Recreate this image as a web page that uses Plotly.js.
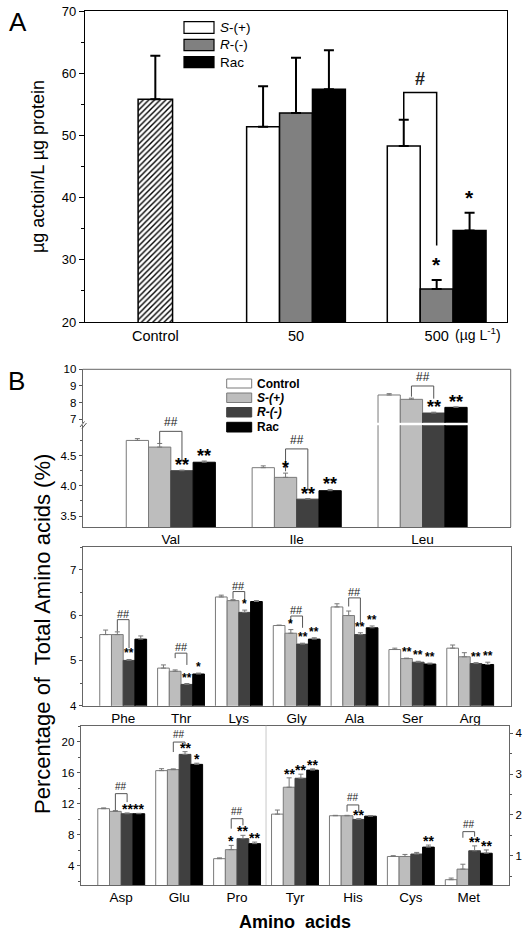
<!DOCTYPE html>
<html>
<head>
<meta charset="utf-8">
<script src="https://cdn.plot.ly/plotly-3.0.1.min.js"></script>
<style>html,body{margin:0;padding:0;background:#fff}</style>
</head>
<body>
<div id="chart" style="width:524px;height:935px"></div>
<script>
// ---------------- Panel A data ----------------
const aCategories = ['Control', '50', '500'];
const aUnitLabel = '(µg L<sup>-1</sup>)';
const aLegend = ['<i>S</i>-(+)', '<i>R</i>-(-)', 'Rac'];
const aControlMean = [55.8];
const aControlErr = [7.0];
const aSMean = [51.4, 48.3];
const aSErr = [6.5, 4.2];
const aRMean = [53.6, 25.3];
const aRErr = [8.9, 1.45];
const aRacMean = [57.4, 34.7];
const aRacErr = [6.3, 2.85];
const aYTicks = [20, 30, 40, 50, 60, 70];
const aYMinor = [25, 35, 45, 55, 65];

// ---------------- Panel B data ----------------
const bLegend = ['<b>Control</b>', '<b><i>S-(+)</i></b>', '<b><i>R-(-)</i></b>', '<b>Rac</b>'];

const bTopCats = ['Val', 'Ile', 'Leu'];
const bTopControl = [4.75, 4.30, 8.46];
const bTopControlErr = [0.03, 0.03, 0.08];
const bTopS = [4.64, 4.14, 8.20];
const bTopSErr = [0.06, 0.07, 0.07];
const bTopR = [4.25, 3.78, 7.38];
const bTopRErr = [0.01, 0.01, 0.05];
const bTopRac = [4.39, 3.92, 7.72];
const bTopRacErr = [0.02, 0.02, 0.03];

const bMidCats = ['Phe', 'Thr', 'Lys', 'Gly', 'Ala', 'Ser', 'Arg'];
const bMidControl = [5.57, 4.83, 6.40, 5.77, 6.18, 5.24, 5.27];
const bMidControlErr = [0.10, 0.07, 0.04, 0.01, 0.07, 0.03, 0.07];
const bMidS = [5.57, 4.76, 6.32, 5.60, 5.99, 5.04, 5.08];
const bMidSErr = [0.06, 0.03, 0.02, 0.08, 0.10, 0.01, 0.09];
const bMidR = [5.00, 4.47, 6.06, 5.36, 5.57, 4.96, 4.93];
const bMidRErr = [0.02, 0.02, 0.05, 0.02, 0.04, 0.02, 0.02];
const bMidRac = [5.47, 4.70, 6.30, 5.47, 5.72, 4.92, 4.91];
const bMidRacErr = [0.07, 0.02, 0.02, 0.03, 0.04, 0.02, 0.05];

// first three use the left axis, the last four the right axis
const bBotCats = ['Asp', 'Glu', 'Pro', 'Tyr', 'His', 'Cys', 'Met'];
const bBotLeftCount = 3;
const bBotControl = [11.35, 16.26, 4.90, 2.02, 1.98, 0.98, 0.41];
const bBotControlErr = [0.10, 0.25, 0.10, 0.10, 0.01, 0.02, 0.04];
const bBotS = [11.00, 16.39, 6.06, 2.68, 1.98, 0.98, 0.67];
const bBotSErr = [0.10, 0.10, 0.55, 0.23, 0.01, 0.05, 0.12];
const bBotR = [10.70, 18.36, 7.48, 2.90, 1.89, 1.04, 1.12];
const bBotRErr = [0.10, 0.35, 0.43, 0.10, 0.02, 0.04, 0.12];
const bBotRac = [10.70, 17.07, 6.84, 3.10, 1.97, 1.21, 1.06];
const bBotRacErr = [0.05, 0.15, 0.20, 0.03, 0.01, 0.05, 0.08];

const bTopLowTicks = [3.5, 4.0, 4.5];
const bTopLowMinor = [3.75, 4.25, 4.75];
const bTopHighTicks = [7, 8, 9, 10];
const bMidTicks = [4, 5, 6, 7];
const bMidMinor = [4.5, 5.5, 6.5, 7.5];
const bBotLeftTicks = [4, 8, 12, 16, 20];
const bBotLeftMinor = [2, 6, 10, 14, 18, 22];
const bBotRightTicks = [1, 2, 3, 4];
const bBotRightMinor = [0.5, 1.5, 2.5, 3.5];

// significance marks: [category index, series index, text]
const aStars = [[2, 2, '*'], [2, 3, '*']];
const bTopStars = [[0,2,'**'],[0,3,'**'],[1,1,'*'],[1,2,'**'],[1,3,'**'],[2,2,'**'],[2,3,'**']];
const bMidStars = [[0,2,'**'],[1,2,'**'],[1,3,'*'],[2,2,'*'],[3,1,'*'],[3,2,'**'],[3,3,'**'],[4,2,'**'],[4,3,'**'],[5,1,'**'],[5,2,'**'],[5,3,'**'],[6,2,'**'],[6,3,'**']];
const bBotStars = [[0,2,'**'],[0,3,'**'],[1,2,'**'],[1,3,'*'],[2,1,'*'],[2,2,'**'],[2,3,'**'],[3,1,'**'],[3,2,'**'],[3,3,'**'],[4,2,'**'],[5,3,'**'],[6,2,'**'],[6,3,'**']];
// brackets: [category index, left foot, top, right foot]
const aBrackets = [[2, 52.6, 56.9, 32.3]];
const bTopBrackets = [[0, 4.70, 4.90, 4.41], [1, 4.24, 4.61, 3.93], [2, 8.36, 9.0, 8.24]];
const bMidBrackets = [[0, 5.64, 5.90, 5.27], [1, 5.05, 5.16, 4.90], [2, 6.36, 6.52, 6.32], [3, 5.83, 5.98, 5.72], [4, 6.19, 6.38, 5.79]];
const bBotBrackets = [[0, 11.14, 13.29, 12.2], [1, 18.66, 19.95, 19.5], [2, 8.77, 10.06, 9.2], [4, 2.08, 2.245, 2.08], [6, 1.44, 1.59, 1.47]];

// ---------------- helpers ----------------
const FONT = 'Liberation Sans, Arial, Helvetica, sans-serif';
const W = 524, H = 935;
const px = x => x / W;
const py = y => 1 - y / H;
const catIdx = arr => arr.map((_, i) => i);

const traces = [], shapes = [], annotations = [];

function addBar(x, y, err, xa, ya, offset, width, marker, errColor, errThick, errW) {
  traces.push({
    type: 'bar', x: x, y: y, xaxis: xa, yaxis: ya, offset: offset, width: width,
    marker: marker, showlegend: false, hoverinfo: 'skip',
    error_y: {type: 'data', symmetric: false, array: err, arrayminus: err.map(() => 0),
              color: errColor, thickness: errThick, width: errW}
  });
}
function centersFor(groupW) {
  const w = groupW / 4;
  return [0, 1, 2, 3].map(s => -groupW / 2 + w * s + w / 2);
}
function addStars(list, means, errs, centers, xa, yaFor, fs, yshift) {
  list.forEach(([c, s, txt]) => {
    annotations.push({xref: xa, yref: yaFor(c), x: c + centers[s], y: means[s][c] + errs[s][c],
      text: '<b>' + txt + '</b>', showarrow: false, xanchor: 'center', yanchor: 'bottom',
      yshift: yshift, font: {size: fs, color: '#000'}});
  });
}
function addBrackets(list, centers, xa, yaFor, color, lw, hash, fs, yshift) {
  list.forEach(([c, left, top, right]) => {
    const xL = c + centers[1], xR = c + centers[2];
    shapes.push({type: 'path', xref: xa, yref: yaFor(c), layer: 'above',
      path: `M${xL},${left} L${xL},${top} L${xR},${top} L${xR},${right}`,
      line: {color: color, width: lw}});
    annotations.push({xref: xa, yref: yaFor(c), x: (xL + xR) / 2, y: top, text: hash,
      showarrow: false, xanchor: 'center', yanchor: 'bottom', yshift: yshift,
      font: {size: fs, color: '#222'}});
  });
}

// ---------------- Panel A ----------------
const aIdx = catIdx(aCategories);
const aGroup = 0.702, aW = aGroup / 3;
const aLine = {color: '#000', width: 1.5};
addBar([aIdx[0]], aControlMean, aControlErr, 'x', 'y', -0.1225, 0.245,
  {color: '#fff', line: aLine, pattern: {shape: '/', fgcolor: '#000', bgcolor: '#fff', size: 4, solidity: 0.35}},
  '#000', 2, 5);
const aFills = ['#ffffff', '#808080', '#000000'];
const aMeans = [aSMean, aRMean, aRacMean];
const aErrs = [aSErr, aRErr, aRacErr];
for (let s = 0; s < 3; s++) {
  addBar(aIdx.slice(1), aMeans[s], aErrs[s], 'x', 'y', -aGroup / 2 + s * aW, aW,
    {color: aFills[s], line: aLine}, '#000', 2, 5);
}
// centers indexed like B (0=control slot unused, 1=S, 2=R, 3=Rac)
const aCenters = [0, -aW, 0, aW];
const aStarMeans = [null, [null].concat(aSMean), [null].concat(aRMean), [null].concat(aRacMean)];
const aStarErrs = [null, [null].concat(aSErr), [null].concat(aRErr), [null].concat(aRacErr)];
addStars(aStars, aStarMeans, aStarErrs, aCenters, 'x', () => 'y', 21, 2);
addBrackets(aBrackets, aCenters, 'x', () => 'y', '#000', 1.5, '<b>#</b>', 18, 1);

// legend A
[[21.7, 33.3], [39.3, 50.7], [56.7, 67.7]].forEach(([y0, y1], i) => {
  shapes.push({type: 'rect', xref: 'paper', yref: 'paper', x0: px(184), x1: px(214), y0: py(y1), y1: py(y0),
    fillcolor: aFills[i], line: {color: '#000', width: 1.2}});
  annotations.push({xref: 'paper', yref: 'paper', x: px(218), y: py((y0 + y1) / 2), text: aLegend[i],
    showarrow: false, xanchor: 'left', yanchor: 'middle', font: {size: 13.5}});
});
annotations.push({xref: 'x', yref: 'paper', x: 2.115, y: py(333.5), text: aUnitLabel, showarrow: false,
  xanchor: 'left', yanchor: 'middle', font: {size: 14}});
annotations.push({xref: 'paper', yref: 'paper', x: px(7), y: py(22), text: 'A', showarrow: false,
  xanchor: 'left', yanchor: 'middle', font: {size: 26}});

// ---------------- Panel B ----------------
const bFills = ['#ffffff', '#bdbdbd', '#404040', '#000000'];
const bLines = ['#7a7a7a', '#7a7a7a', '#404040', '#000000'];
const bErrColor = '#777';

// top (broken axis)
const topGroup = 0.708, topW = topGroup / 4, topCenters = centersFor(topGroup);
const topMeans = [bTopControl, bTopS, bTopR, bTopRac];
const topErrs = [bTopControlErr, bTopSErr, bTopRErr, bTopRacErr];
const topIdx = catIdx(bTopCats);
for (let s = 0; s < 4; s++) {
  ['y2', 'y3'].forEach(ya => addBar(topIdx, topMeans[s], topErrs[s], 'x2', ya, -topGroup / 2 + s * topW, topW,
    {color: bFills[s], line: {color: bLines[s], width: 1}}, bErrColor, 1, 2.5));
}
const topYa = c => (topMeans[0][c] > 6 ? 'y3' : 'y2');
addStars(bTopStars, topMeans, topErrs, topCenters, 'x2', topYa, 18, -7);
addBrackets(bTopBrackets, topCenters, 'x2', topYa, '#555', 1, '##', 12, 0);

// middle
const midGroup = 0.81, midW = midGroup / 4, midCenters = centersFor(midGroup);
const midMeans = [bMidControl, bMidS, bMidR, bMidRac];
const midErrs = [bMidControlErr, bMidSErr, bMidRErr, bMidRacErr];
const midIdx = catIdx(bMidCats);
for (let s = 0; s < 4; s++) {
  addBar(midIdx, midMeans[s], midErrs[s], 'x3', 'y4', -midGroup / 2 + s * midW, midW,
    {color: bFills[s], line: {color: bLines[s], width: 1}}, bErrColor, 1, 2.5);
}
addStars(bMidStars, midMeans, midErrs, midCenters, 'x3', () => 'y4', 12, -3);
addBrackets(bMidBrackets, midCenters, 'x3', () => 'y4', '#555', 1, '##', 11, -2);

// bottom (two scales)
const botGroup = 0.81, botW = botGroup / 4, botCenters = centersFor(botGroup);
const botMeans = [bBotControl, bBotS, bBotR, bBotRac];
const botErrs = [bBotControlErr, bBotSErr, bBotRErr, bBotRacErr];
const botIdx = catIdx(bBotCats);
for (let s = 0; s < 4; s++) {
  const mk = {color: bFills[s], line: {color: bLines[s], width: 1}};
  addBar(botIdx.slice(0, bBotLeftCount), botMeans[s].slice(0, bBotLeftCount), botErrs[s].slice(0, bBotLeftCount),
    'x4', 'y5', -botGroup / 2 + s * botW, botW, mk, bErrColor, 1, 2.5);
  addBar(botIdx.slice(bBotLeftCount), botMeans[s].slice(bBotLeftCount), botErrs[s].slice(bBotLeftCount),
    'x4', 'y6', -botGroup / 2 + s * botW, botW, mk, bErrColor, 1, 2.5);
}
const botYa = c => (c < bBotLeftCount ? 'y5' : 'y6');
addStars(bBotStars, botMeans, botErrs, botCenters, 'x4', botYa, 14, -6);
addBrackets(bBotBrackets, botCenters, 'x4', botYa, '#555', 1, '##', 10, 0);

// separator between the two scales of the bottom panel
shapes.push({type: 'line', xref: 'x4', yref: 'y5 domain', x0: bBotLeftCount - 0.5, x1: bBotLeftCount - 0.5, y0: 0, y1: 1,
  line: {color: '#c8c8c8', width: 1}});
// top panel frame (top & right edges) and break marks
shapes.push({type: 'line', xref: 'paper', yref: 'paper', x0: px(82.7), x1: px(510.7), y0: py(369.3), y1: py(369.3), line: {color: '#666', width: 1}});
shapes.push({type: 'line', xref: 'paper', yref: 'paper', x0: px(510.7), x1: px(510.7), y0: py(527), y1: py(369.3), line: {color: '#666', width: 1}});
shapes.push({type: 'line', xref: 'paper', yref: 'paper', x0: px(80), x1: px(84.5), y0: py(427), y1: py(421.5), line: {color: '#555', width: 1}});
shapes.push({type: 'line', xref: 'paper', yref: 'paper', x0: px(82), x1: px(86.5), y0: py(428.5), y1: py(423), line: {color: '#555', width: 1}});

// legend B
[[379, 388], [393, 402.5], [407.5, 417], [422.3, 432]].forEach(([y0, y1], i) => {
  shapes.push({type: 'rect', xref: 'paper', yref: 'paper', x0: px(226.7), x1: px(251.7), y0: py(y1), y1: py(y0),
    fillcolor: bFills[i], line: {color: bLines[i], width: 1}});
  annotations.push({xref: 'paper', yref: 'paper', x: px(255), y: py((y0 + y1) / 2), text: bLegend[i],
    showarrow: false, xanchor: 'left', yanchor: 'middle', font: {size: 12}});
});
annotations.push({xref: 'paper', yref: 'paper', x: px(6), y: py(381), text: 'B', showarrow: false,
  xanchor: 'left', yanchor: 'middle', font: {size: 26}});
annotations.push({xref: 'paper', yref: 'paper', x: px(42), y: py(634), text: 'Percentage of\u00a0 Total Amino acids (%)',
  textangle: -90, showarrow: false, xanchor: 'center', yanchor: 'middle', font: {size: 22}});

// ---------------- layout ----------------
const bTick = {size: 11.5, color: '#000'};
function yAx(domain, range, ticks, minor, extra) {
  return Object.assign({
    domain: domain, range: range, tickmode: 'array', tickvals: ticks, ticks: 'outside', ticklen: 3,
    tickcolor: '#555', tickwidth: 1, showline: true, linecolor: '#666', linewidth: 1,
    showgrid: false, zeroline: false, tickfont: bTick, fixedrange: true,
    minor: minor ? {tickmode: 'array', tickvals: minor, ticks: 'outside', ticklen: 2, tickcolor: '#555'} : undefined
  }, extra || {});
}
function xAx(domain, cats, anchor, extra) {
  return Object.assign({
    domain: domain, range: [-0.7, cats.length - 0.3], anchor: anchor, tickmode: 'array',
    tickvals: catIdx(cats), ticktext: cats, ticks: '', showline: true, linecolor: '#666', linewidth: 1,
    showgrid: false, zeroline: false, tickfont: {size: 13.5, color: '#000'}, fixedrange: true
  }, extra || {});
}

const layout = {
  width: W, height: H, margin: {l: 0, r: 0, t: 0, b: 0},
  paper_bgcolor: '#fff', plot_bgcolor: 'rgba(0,0,0,0)',
  font: {family: FONT, color: '#000'},
  barmode: 'overlay', showlegend: false,
  xaxis: {domain: [px(85), px(507)], range: [-0.5, 2.5], anchor: 'y', tickmode: 'array',
    tickvals: aIdx, ticktext: aCategories, ticks: '', showline: true, mirror: true, linecolor: '#000',
    linewidth: 1.2, showgrid: false, zeroline: false, tickfont: {size: 14.5}, fixedrange: true},
  yaxis: {domain: [py(322), py(11)], range: [20, 70], anchor: 'x', tickmode: 'array', tickvals: aYTicks,
    ticks: 'outside', ticklen: 5, tickcolor: '#000', showline: true, mirror: true, linecolor: '#000',
    linewidth: 1.2, showgrid: false, zeroline: false, tickfont: {size: 13}, fixedrange: true,
    minor: {tickmode: 'array', tickvals: aYMinor, ticks: 'outside', ticklen: 3, tickcolor: '#000'},
    title: {text: 'µg actoin/L µg protein', font: {size: 18}, standoff: 12}},
  xaxis2: xAx([px(82.7), px(510.7)], bTopCats, 'y2'),
  yaxis2: yAx([py(527), py(425.3)], [3.32, 5.0], bTopLowTicks, bTopLowMinor, {anchor: 'x2', tickformat: '.1f'}),
  yaxis3: yAx([py(422.7), py(369.3)], [6.8, 10], bTopHighTicks, null, {anchor: 'x2'}),
  xaxis3: xAx([px(82.7), px(510.7)], bMidCats, 'y4', {mirror: true}),
  yaxis4: yAx([py(705.7), py(546.7)], [4, 7.51], bMidTicks, bMidMinor, {anchor: 'x3', mirror: true}),
  xaxis4: xAx([px(80.7), px(509.3)], bBotCats, 'y5', {mirror: true,
    title: {text: '<b>Amino\u00a0 acids</b>', font: {size: 18}, standoff: 11}}),
  yaxis5: yAx([py(885), py(725.7)], [1.5, 22.06], bBotLeftTicks, bBotLeftMinor, {anchor: 'x4'}),
  yaxis6: yAx([py(885), py(725.7)], [0.28, 4.19], bBotRightTicks, bBotRightMinor,
    {anchor: 'x4', overlaying: 'y5', side: 'right'}),
  shapes: shapes, annotations: annotations
};

Plotly.newPlot('chart', traces, layout, {staticPlot: true, displayModeBar: false});
</script>
</body>
</html>
